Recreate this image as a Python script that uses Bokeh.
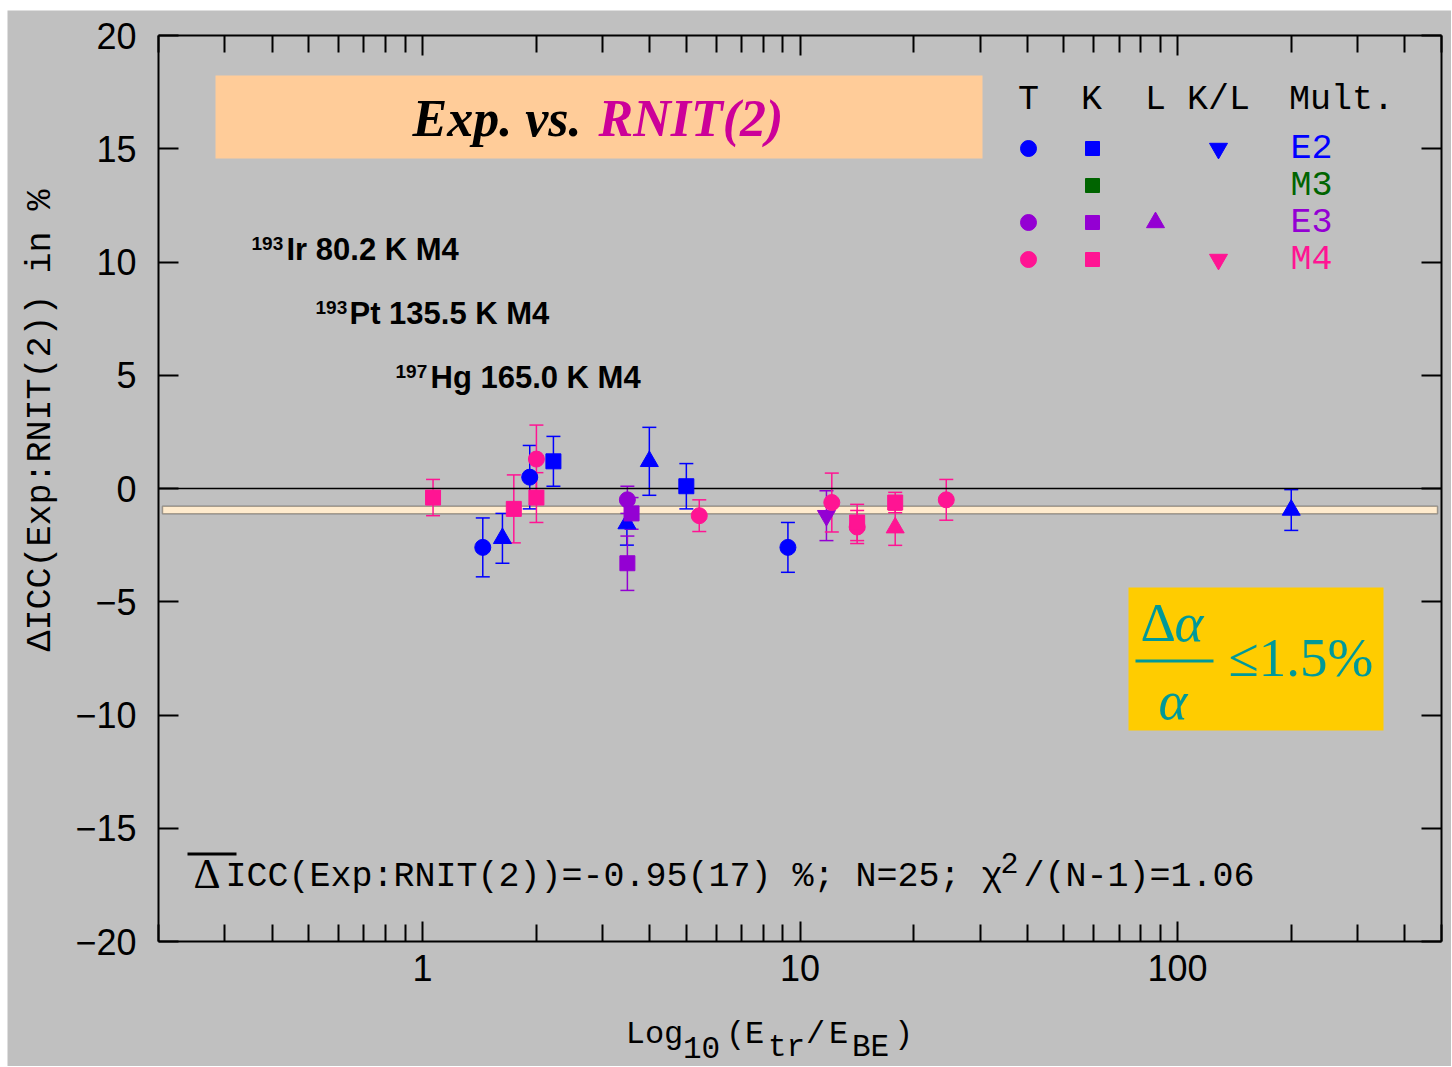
import math
from bokeh.plotting import figure
from bokeh.models import (ColumnDataSource, Whisker, TeeHead, BoxAnnotation, Label,
                          LogAxis, LinearAxis, FixedTicker, CustomJSTickFormatter, Range1d)
from bokeh.embed import file_html
from bokeh.resources import INLINE

# ---------------- data ----------------
X_MIN, X_MAX = 0.2, 500
Y_MIN, Y_MAX = -20, 20
x_major = [1, 10, 100]
x_tick_labels = {1: "1", 10: "10", 100: "100"}
x_minor = [m * 10 ** e for e in (-1, 0, 1, 2) for m in range(2, 10) if X_MIN <= m * 10 ** e <= X_MAX]
y_ticks = [-20, -15, -10, -5, 0, 5, 10, 15, 20]

# E2 (blue)
e2_T_x = [1.445, 1.924, 9.29]
e2_T_y = [-2.6, 0.5, -2.6]
e2_T_err = [1.3, 1.4, 1.1]
e2_K_x = [2.223, 5.0]
e2_K_y = [1.2, 0.1]
e2_K_err = [1.1, 1.0]
e2_L_x = [1.629, 3.48, 3.99, 200.0]
e2_L_y = [-2.2, -1.55, 1.2, -0.95]
e2_L_err = [1.1, 0.95, 1.5, 0.9]
# E3 (purple)
e3_T_x = [3.49]
e3_T_y = [-0.5]
e3_T_err = [0.6]
e3_K_x = [3.58, 3.49]
e3_K_y = [-1.1, -3.3]
e3_K_err = [0.7, 1.2]
e3_KL_x = [11.75]
e3_KL_y = [-1.2]
e3_KL_err = [1.1]
# M4 (pink)
m4_T_x = [2.004, 5.41, 12.14, 14.17, 24.4]
m4_T_y = [1.3, -1.2, -0.62, -1.7, -0.5]
m4_T_err = [1.5, 0.7, 1.3, 0.73, 0.9]
m4_K_x = [1.067, 1.746, 2.004, 14.17, 17.87]
m4_K_y = [-0.4, -0.9, -0.4, -1.5, -0.62]
m4_K_err = [0.8, 1.5, 1.1, 0.8, 0.45]
m4_L_x = [17.87]
m4_L_y = [-1.73]
m4_L_err = [0.78]

mean_val = -0.95
mean_err = 0.17

mult_names = ["E2", "M3", "E3", "M4"]
legend_headers = ["T", "K", "L", "K/L", "Mult."]

# ---------------- style ----------------
BLUE, PURPLE, PINK, GREEN = "#0000ff", "#9400d3", "#ff1493", "#006400"
mult_colors = [BLUE, GREEN, PURPLE, PINK]
BG = "#c0c0c0"
MONO = "Liberation Mono"
SANS = "Liberation Sans"
SERIF = "Liberation Serif"

# axes box position on the page (px) used to place annotations
FL, FR, FT, FB = 158, 1441, 35, 941
PAGE_L, PAGE_T = 7, 10
FIG_W, FIG_H = 1444, 1056


def dx(px):
    return 10 ** (math.log10(X_MIN) + (px - FL) / (FR - FL) * math.log10(X_MAX / X_MIN))


def dy(py):
    return Y_MAX - (py - FT) / (FB - FT) * (Y_MAX - Y_MIN)


# the drawing area covers the whole canvas; the axes are drawn at the data limits
p = figure(width=FIG_W, height=FIG_H, x_axis_type="log",
           x_range=Range1d(dx(PAGE_L), dx(PAGE_L + FIG_W)),
           y_range=Range1d(dy(PAGE_T + FIG_H), dy(PAGE_T)),
           x_axis_location=None, y_axis_location=None,
           output_backend="svg", toolbar_location=None,
           margin=(PAGE_T, 0, 0, PAGE_L), min_border=0,
           background_fill_color=BG, border_fill_color=BG,
           outline_line_color=None)
p.grid.visible = False


def lab(text, px, py_mid, fs, font, color="black", style="normal", align="left", angle=0.0):
    p.add_layout(Label(x=dx(px), y=dy(py_mid), text=text, text_font=font,
                       text_font_size=f"{fs}px", text_font_style=style, text_color=color,
                       text_align=align, text_baseline="middle", angle=angle))


xt = FixedTicker(ticks=x_major, minor_ticks=x_minor)
yt = FixedTicker(ticks=y_ticks)
blank = CustomJSTickFormatter(code="return ''")
common = dict(major_tick_in=20, major_tick_out=0, axis_line_width=2,
              major_tick_line_width=2, axis_line_color="black", major_tick_line_color="black")

bottom = LogAxis(fixed_location=Y_MIN, bounds=(X_MIN, X_MAX), ticker=xt,
                 major_label_overrides=x_tick_labels,
                 minor_tick_in=17, minor_tick_out=0, minor_tick_line_width=2,
                 major_label_text_font=SANS, major_label_text_font_size="36px",
                 major_label_text_color="black", major_label_standoff=13, **common)
p.add_layout(bottom, "below")
left = LinearAxis(fixed_location=X_MIN, bounds=(Y_MIN, Y_MAX), ticker=yt,
                  minor_tick_line_color=None,
                  major_label_text_font=SANS, major_label_text_font_size="36px",
                  major_label_text_color="black", major_label_standoff=22, **common)
p.add_layout(left, "left")
top = LogAxis(fixed_location=Y_MAX, bounds=(X_MIN, X_MAX), ticker=xt, formatter=blank,
              minor_tick_in=17, minor_tick_out=0, minor_tick_line_width=2,
              major_label_standoff=0, **common)
p.add_layout(top, "above")
right = LinearAxis(fixed_location=X_MAX, bounds=(Y_MIN, Y_MAX), ticker=yt, formatter=blank,
                   minor_tick_line_color=None, major_label_standoff=0, **common)
p.add_layout(right, "right")

# ---------------- reference lines ----------------
p.add_layout(BoxAnnotation(left=dx(162), right=dx(1437),
                           bottom=mean_val - mean_err, top=mean_val + mean_err,
                           fill_color="#ffebcd", fill_alpha=1, line_color="black",
                           line_width=1.5, level="underlay"))
p.segment(x0=[X_MIN], x1=[X_MAX], y0=[0], y1=[0], line_color="black", line_width=1.5)

# ---------------- data points ----------------
series = [
    (e2_T_x, e2_T_y, e2_T_err, "circle", BLUE, 16),
    (e2_K_x, e2_K_y, e2_K_err, "square", BLUE, 15),
    (e2_L_x, e2_L_y, e2_L_err, "triangle", BLUE, 18),
    (e3_T_x, e3_T_y, e3_T_err, "circle", PURPLE, 16),
    (e3_K_x, e3_K_y, e3_K_err, "square", PURPLE, 15),
    (e3_KL_x, e3_KL_y, e3_KL_err, "inverted_triangle", PURPLE, 18),
    (m4_T_x, m4_T_y, m4_T_err, "circle", PINK, 16),
    (m4_K_x, m4_K_y, m4_K_err, "square", PINK, 15),
    (m4_L_x, m4_L_y, m4_L_err, "triangle", PINK, 18),
]
for xs, ys, es, mk, col, sz in series:
    src = ColumnDataSource(dict(x=xs, y=ys,
                                lower=[v - e for v, e in zip(ys, es)],
                                upper=[v + e for v, e in zip(ys, es)]))
    p.add_layout(Whisker(source=src, base="x", lower="lower", upper="upper",
                         line_color=col, line_width=1.5,
                         upper_head=TeeHead(size=14, line_color=col, line_width=1.5),
                         lower_head=TeeHead(size=14, line_color=col, line_width=1.5),
                         level="underlay"))
    p.scatter("x", "y", source=src, marker=mk, size=sz, fill_color=col, line_color=col)

# ---------------- axis titles ----------------
lab("ΔICC(Exp:RNIT(2)) in %", 40, 420, 35, MONO, align="center", angle=math.pi / 2)
# x title: pieces centred on their positions, subscripts lowered
xlabel_parts = [("Log", 654, 0), ("10", 701, 1), ("(", 735, 0), ("E", 754, 0), ("tr", 786, 1),
                ("/", 815, 0), ("E", 838, 0), ("BE", 870, 1), (")", 903, 0)]
for txt, px_, sub in xlabel_parts:
    lab(txt, px_, 1034 + 13 * sub, 32 - sub, MONO, align="center")

# ---------------- title box ----------------
p.add_layout(BoxAnnotation(left=dx(215), right=dx(982), top=dy(75), bottom=dy(158),
                           fill_color="#ffcc99", fill_alpha=1, line_color=None, level="underlay"))
lab("Exp. vs.", 412, 117.5, 52, SERIF, style="bold italic")
lab("RNIT(2)", 598, 117.5, 52, SERIF, color="#cc0099", style="bold italic")

# ---------------- nuclide labels ----------------
nuclides = [("193", "Ir 80.2 K M4", 251, 286, 259),
            ("193", "Pt 135.5 K M4", 315, 349, 323),
            ("197", "Hg 165.0 K M4", 395, 430, 387)]
for mass, txt, xs_, xm_, yb in nuclides:
    lab(mass, xs_, yb - 16.5, 19, SANS, style="bold")
    lab(txt, xm_, yb - 10.5, 31, SANS, style="bold")

# ---------------- legend table ----------------
head_px = [1028, 1091, 1155, 1218, 1341]
for h, hx in zip(legend_headers, head_px):
    lab(h, hx, 99.5, 35, MONO, align="center")
row_px = [148, 185, 222, 259]
legend_marks = {  # which symbols each multipolarity row shows
    "E2": ["T", "K", "K/L"],
    "M3": ["K"],
    "E3": ["T", "K", "L"],
    "M4": ["T", "K", "K/L"],
}
col_px = {"T": 1028, "K": 1092, "L": 1155, "K/L": 1218}
col_marker = {"T": ("circle", 16), "K": ("square", 14),
              "L": ("triangle", 18), "K/L": ("inverted_triangle", 18)}
for name, col, ry in zip(mult_names, mult_colors, row_px):
    for shell in legend_marks[name]:
        mk, sz = col_marker[shell]
        p.scatter([dx(col_px[shell])], [dy(ry)], marker=mk, size=sz, fill_color=col, line_color=col)
    lab(name, 1290, ry, 35, MONO, color=col)

# ---------------- precision box ----------------
TEAL = "#009999"
p.add_layout(BoxAnnotation(left=dx(1128), right=dx(1383), top=dy(587), bottom=dy(730),
                           fill_color="#ffcc00", fill_alpha=1, line_color=None, level="underlay"))
lab("Δ", 1140, 621.5, 55, SERIF, color=TEAL)
lab("α", 1174, 621.5, 55, SERIF, color=TEAL, style="italic")
p.add_layout(BoxAnnotation(left=dx(1135), right=dx(1213), top=dy(659), bottom=dy(662),
                           fill_color=TEAL, fill_alpha=1, line_color=None))
lab("α", 1158, 699.5, 55, SERIF, color=TEAL, style="italic")
lab("≤1.5%", 1228, 656.5, 55, SERIF, color=TEAL)

# ---------------- mean summary text ----------------
p.add_layout(BoxAnnotation(left=dx(187), right=dx(236), top=dy(852), bottom=dy(855),
                           fill_color="black", fill_alpha=1, line_color=None))
lab("Δ", 193, 873.5, 42, SERIF)
lab("ICC(Exp:RNIT(2))=-0.95(17) %; N=25; χ", 225, 876, 35, MONO)
lab("2", 1000, 862.5, 30, MONO)
lab("/(N-1)=1.06", 1023, 876, 35, MONO)

open("out.html", "w").write(file_html(p, INLINE))
